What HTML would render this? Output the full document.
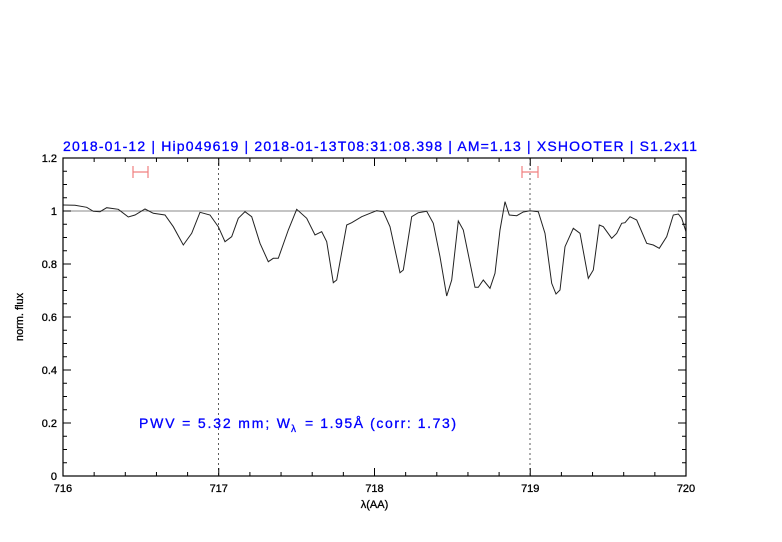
<!DOCTYPE html>
<html><head><meta charset="utf-8"><style>body{margin:0;background:#fff}svg{display:block}</style></head><body>
<svg width="782" height="542" xmlns="http://www.w3.org/2000/svg" font-family="Liberation Sans, sans-serif">
<rect width="782" height="542" fill="#fff"/>
<line x1="63" y1="211" x2="686" y2="211" stroke="#888" stroke-width="1"/>
<line x1="218.5" y1="158" x2="218.5" y2="476" stroke="#333" stroke-dasharray="2,3" stroke-width="0.8"/>
<line x1="530" y1="158" x2="530" y2="476" stroke="#333" stroke-dasharray="2,3" stroke-width="0.8"/>
<g stroke="#f08080" stroke-width="1.2" fill="none">
<path d="M133 172H148M133 166V178M148 166V178"/>
<path d="M522 172H538M522 166V178M538 166V178"/>
</g>
<polyline fill="none" stroke="#222" stroke-width="1" points="63.3,205 75,205.3 86.7,207.3 93.3,211.3 100,211.7 106.7,207.7 118.3,209.3 128.3,217 135,215 145,209 153.3,213.3 165,215 173.3,226.7 183.3,245 191.7,233.3 200,212.3 210,215 218.3,226.7 225,241.7 231.7,236.7 238.3,218.3 245,211.7 251.7,216.7 260,243.3 268.3,261.7 273.3,258.3 278.3,258.3 288.3,230 296.7,209.3 306.7,218.3 315,235 321.7,231.7 326.7,241.7 333.3,282.7 336.7,280 346.7,225 351.7,222.7 361.7,216.7 370,213.3 376.7,210.7 383.3,211.7 390,226.7 400,272.7 403.3,270 411.7,216.7 418.3,212.7 426.7,211.3 433.3,223.3 440,256.7 446.7,296 451.7,280 458.3,221 463.3,230 475,287.3 478.3,287.3 483.3,280 490,288.3 495,273.3 500,230 505,201.7 509.3,215 516.7,215.7 523.3,212 530,210.7 538.3,211.7 545,233.3 551.7,283.3 556,294 560,290 565,246.7 573.3,228.3 580,233.3 588.3,278.3 593.3,270 599.3,225 603.3,226.7 611.7,238.3 616.7,233.3 621.7,223.3 625,222.7 630,216.7 636.7,220 646.7,243.3 653.3,245 659.3,248.3 666.7,236.7 673.3,215 678.3,214 681.7,218.3 686,231.7"/>
<rect x="63" y="158" width="623" height="318" fill="none" stroke="#000" stroke-width="1.2"/>
<g stroke="#000" stroke-width="1">
<path d="M63 476v-8M218.75 476v-8M374.5 476v-8M530.25 476v-8M686 476v-8M63 158v8M218.75 158v8M374.5 158v8M530.25 158v8
M94.15 476v-4M125.3 476v-4M156.45 476v-4M187.6 476v-4M249.9 476v-4M281.05 476v-4M312.2 476v-4M343.35 476v-4M405.65 476v-4M436.8 476v-4M467.95 476v-4M499.1 476v-4M561.4 476v-4M592.55 476v-4M623.7 476v-4M654.85 476v-4
M94.15 158v4M125.3 158v4M156.45 158v4M187.6 158v4M249.9 158v4M281.05 158v4M312.2 158v4M343.35 158v4M405.65 158v4M436.8 158v4M467.95 158v4M499.1 158v4M561.4 158v4M592.55 158v4M623.7 158v4M654.85 158v4
M63 423h8M63 370h8M63 317h8M63 264h8M63 211h8M686 423h-8M686 370h-8M686 317h-8M686 264h-8M686 211h-8
M63 462.75h4M63 449.5h4M63 436.25h4M63 409.75h4M63 396.5h4M63 383.25h4M63 356.75h4M63 343.5h4M63 330.25h4M63 303.75h4M63 290.5h4M63 277.25h4M63 250.75h4M63 237.5h4M63 224.25h4M63 197.75h4M63 184.5h4M63 171.25h4
M686 462.75h-4M686 449.5h-4M686 436.25h-4M686 409.75h-4M686 396.5h-4M686 383.25h-4M686 356.75h-4M686 343.5h-4M686 330.25h-4M686 303.75h-4M686 290.5h-4M686 277.25h-4M686 250.75h-4M686 237.5h-4M686 224.25h-4M686 197.75h-4M686 184.5h-4M686 171.25h-4"/>
</g>
<g font-size="11" fill="#000" text-anchor="end" stroke="#000" stroke-width="0.3">
<text x="57" y="480">0</text><text x="57" y="427">0.2</text><text x="57" y="374">0.4</text><text x="57" y="321">0.6</text><text x="57" y="268">0.8</text><text x="57" y="215">1</text><text x="57" y="162">1.2</text>
</g>
<g font-size="11" fill="#000" text-anchor="middle" stroke="#000" stroke-width="0.3">
<text x="63" y="492">716</text><text x="218.75" y="492">717</text><text x="374.5" y="492">718</text><text x="530.25" y="492">719</text><text x="686" y="492">720</text>
<text x="374.5" y="508">λ(AA)</text>
<text transform="translate(23,317) rotate(-90)">norm. flux</text>
</g>
<g fill="#00f" stroke="#00f" stroke-width="0.3" font-size="14">
<text x="63" y="151" textLength="634" lengthAdjust="spacing">2018-01-12 | Hip049619 | 2018-01-13T08:31:08.398 | AM=1.13 | XSHOOTER | S1.2x11</text>
<text x="139" y="428" textLength="151" lengthAdjust="spacing">PWV = 5.32 mm; W</text>
<text x="291" y="432" font-size="10">λ</text>
<text x="305" y="428" textLength="151" lengthAdjust="spacing">= 1.95Å (corr: 1.73)</text>
</g>
</svg>
</body></html>
